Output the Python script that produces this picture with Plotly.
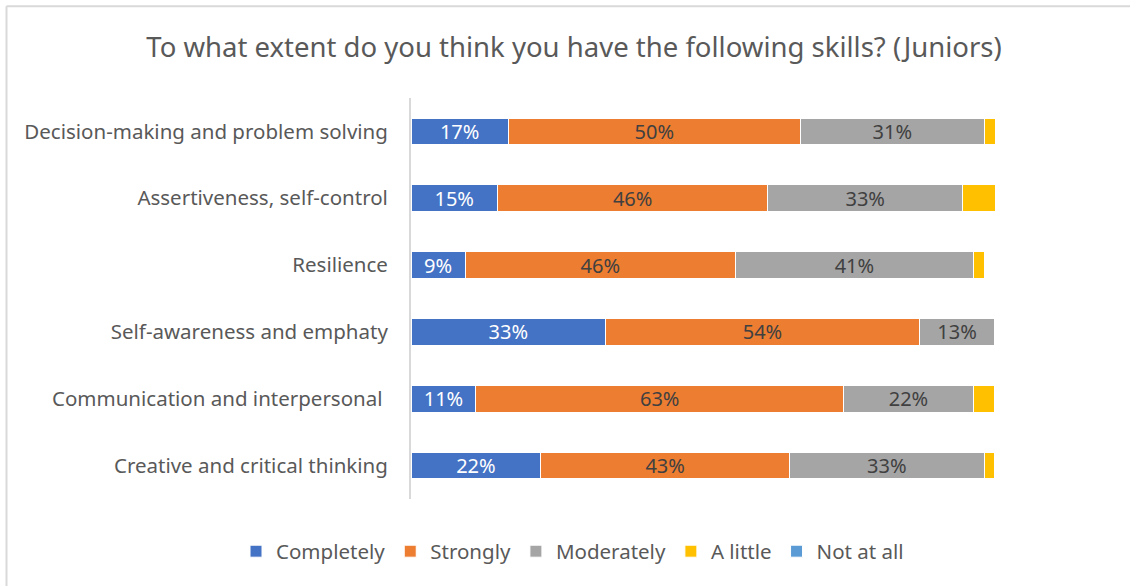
import plotly.graph_objects as go

categories = [
    "Decision-making and problem solving",
    "Assertiveness, self-control",
    "Resilience",
    "Self-awareness and emphaty",
    "Communication and interpersonal ",
    "Creative and critical thinking",
]
series_names = ["Completely", "Strongly", "Moderately", "A little", "Not at all"]
completely = [16.67, 14.81, 9.26, 33.33, 11.11, 22.22]
strongly = [50.00, 46.30, 46.30, 53.70, 62.96, 42.59]
moderately = [31.48, 33.33, 40.74, 12.96, 22.22, 33.33]
a_little = [1.85, 5.56, 1.85, 0.00, 3.70, 1.85]
not_at_all = [0.0, 0.0, 0.0, 0.0, 0.0, 0.0]

values = [completely, strongly, moderately, a_little, not_at_all]
colors = ["#4472C4", "#ED7D31", "#A5A5A5", "#FFC000", "#5B9BD5"]
label_colors = ["#FFFFFF", "#404040", "#404040", None, None]

FONT = "Noto Sans"
TXT = "#595959"

fig = go.Figure()
for name, vals, col, lc in zip(series_names, values, colors, label_colors):
    if lc:
        kw = dict(
            texttemplate="%{x:.0f}%",
            textposition="inside",
            insidetextanchor="middle",
            textfont=dict(family=FONT, size=20, color=lc),
            constraintext="none",
        )
    else:
        kw = dict(textposition="none")
    fig.add_trace(go.Bar(
        name=name, y=categories, x=vals, orientation="h",
        marker=dict(color=col, line=dict(color="#FFFFFF", width=1)),
        hoverinfo="skip", **kw,
    ))

L, R, T, B = 411, 995, 97.5, 499.5
W, H = 1130, 586
px = lambda x: (x - L) / (R - L)
py = lambda y: (B - y) / (B - T)

fig.update_layout(
    width=W, height=H,
    barmode="stack", bargap=0.6,
    margin=dict(l=L, r=W - R, t=T, b=H - B, autoexpand=False),
    paper_bgcolor="white", plot_bgcolor="white",
    uniformtext=dict(minsize=10, mode="show"),
    title=dict(
        text="To what extent do you think you have the following skills? (Juniors)",
        x=574 / W, xanchor="center", y=1 - 47 / H, yanchor="middle",
        font=dict(family=FONT, size=27.5, color=TXT),
    ),
    xaxis=dict(range=[0, 100], visible=False, fixedrange=True),
    yaxis=dict(
        autorange="reversed", showline=True, linecolor="#D9D9D9", linewidth=2,
        ticks="", showgrid=False, ticklabelstandoff=17,
        tickfont=dict(family=FONT, size=20.5, color=TXT),
    ),
    legend=dict(
        orientation="h", xref="paper", yref="paper",
        x=px(236), xanchor="left", y=py(552), yanchor="middle",
        font=dict(family=FONT, size=20.5, color=TXT), traceorder="normal",
        itemclick=False,
    ),
    shapes=[
        dict(type="line", xref="paper", yref="paper", x0=px(6.5), x1=px(1140),
             y0=py(5.5), y1=py(5.5), line=dict(color="#D9D9D9", width=2)),
        dict(type="line", xref="paper", yref="paper", x0=px(6.5), x1=px(6.5),
             y0=py(5.5), y1=py(600), line=dict(color="#D9D9D9", width=2)),
    ],
)

fig.write_html("out.html")
